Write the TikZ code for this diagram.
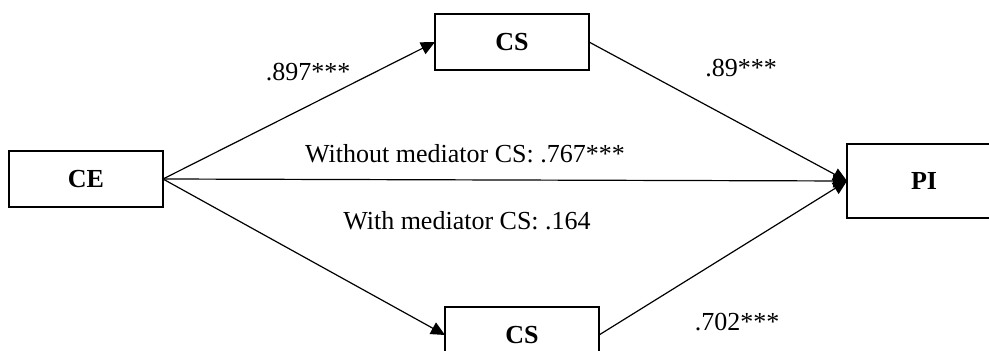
\documentclass[tikz,border=0pt]{standalone}
\usepackage{fontspec}
\setmainfont{Liberation Serif}
\usetikzlibrary{arrows.meta,positioning}

\begin{document}
\begin{tikzpicture}[
    x=0.5pt, y=-0.5pt,
    var/.style={rectangle, draw, line width=1pt, fill=white,
                minimum width=77pt, minimum height=28pt,
                inner sep=0pt, outer sep=0pt,
                font=\fontsize{13}{15}\selectfont\bfseries},
    coef/.style={font=\fontsize{13}{15}\selectfont, inner sep=0pt},
    path/.style={-{Triangle[length=7pt,width=6.5pt]}, line width=0.6pt},
    >=Stealth
]
\useasboundingbox (0,0) rectangle (989,351);

\node[var] (ce) at (86,179) {CE};
\node[var] (cstop) at (512,42) {CS};
\node[var] (csbot) at (522,335) {CS};
\node[var, minimum height=37pt] (pi) at (924,181) {PI};

\draw[path] (ce.east) -- (cstop.west);
\draw[path] (ce.east) -- (csbot.west);
\draw[path] (ce.east) -- (pi.west);
\draw[path] (cstop.east) -- (pi.west);
\draw[path] (csbot.east) -- (pi.west);

% Coefficients
\node[coef] (a1) at (308,72) {.897***};
\node[coef] (b1) at (741,68) {.89***};
\node[coef] (c) at (465,154) {Without mediator CS: .767***};
\node[coef] (cp) at (467,221) {With mediator CS: .164};
\node[coef] (b2) at (737,322) {.702***};
\end{tikzpicture}
\end{document}
